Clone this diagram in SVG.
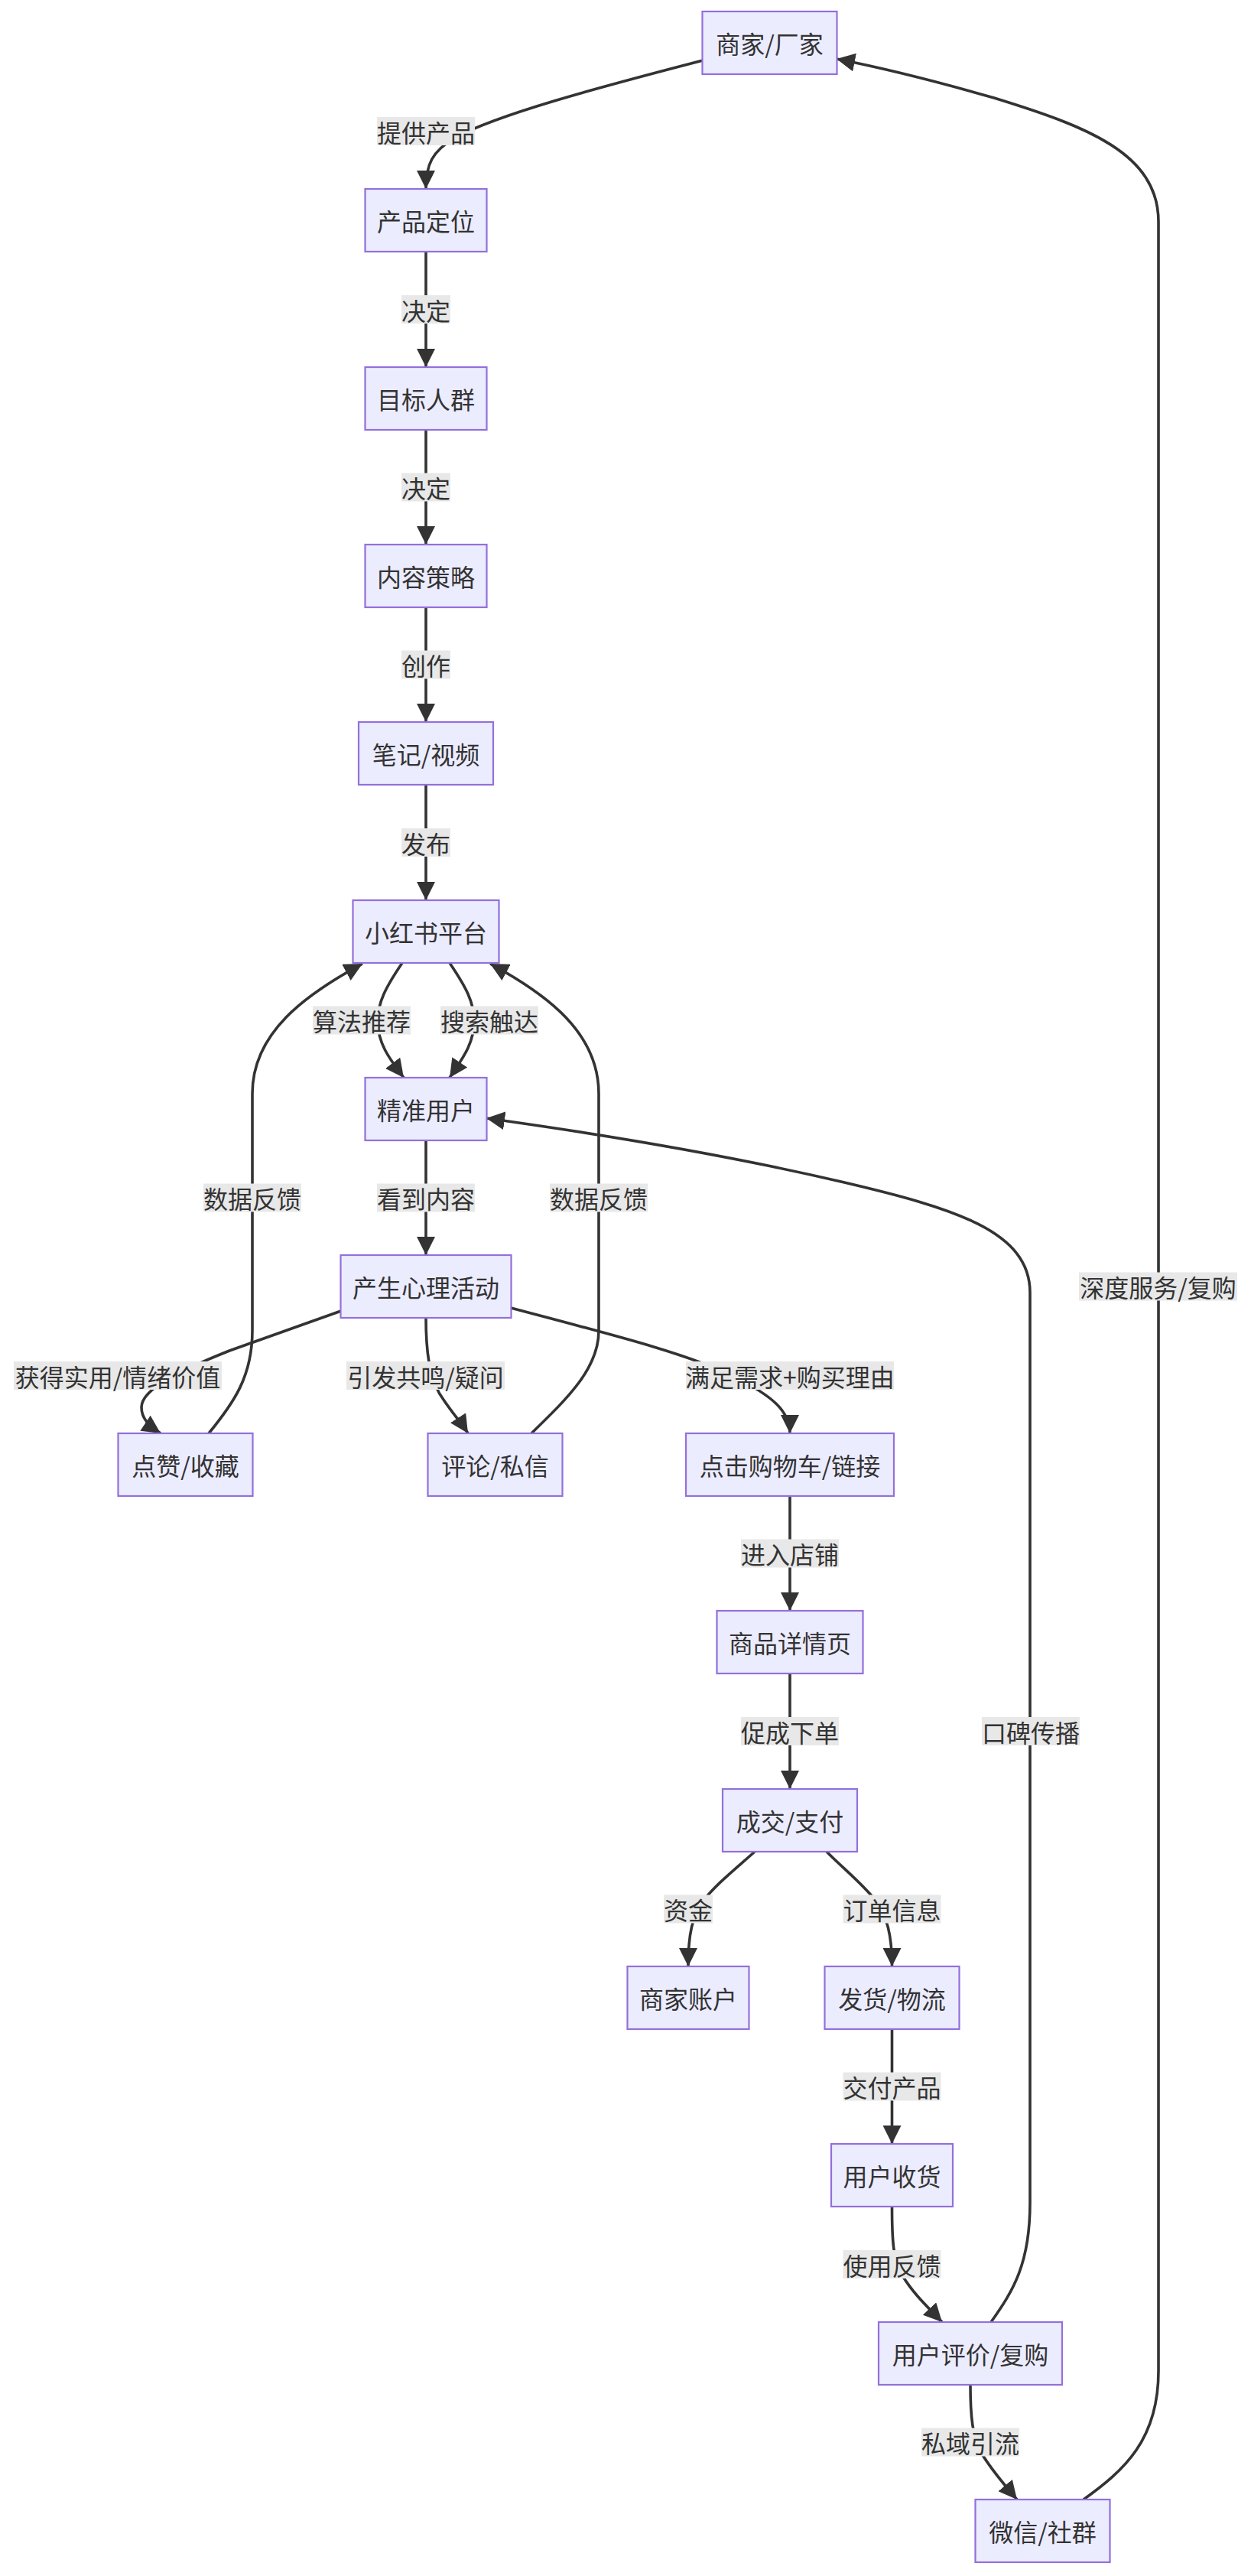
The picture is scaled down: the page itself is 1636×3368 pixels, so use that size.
<svg xmlns="http://www.w3.org/2000/svg" width="1636" height="3368" viewBox="0 0 1636 3368">
<style>
.node rect{fill:#ECECFF;stroke:#9370DB;stroke-width:2.2}
text{font-family:"Noto Sans CJK SC","Noto Sans",sans-serif;font-size:32px;fill:#333;text-anchor:middle;dominant-baseline:central}
.edge{fill:none;stroke:#333;stroke-width:3.6;marker-end:url(#arrow)}
.lbl rect{fill:#e8e8e8}
</style>
<defs>
<marker id="arrow" viewBox="0 0 10 10" refX="10" refY="5" markerUnits="userSpaceOnUse" markerWidth="24" markerHeight="24" orient="auto">
<path d="M0,0 L10,5 L0,10 z" fill="#333"/>
</marker>
</defs>
<rect width="1636" height="3368" fill="#fff"/>
<g id="connectors">
<path class="edge" d="M919,79 C780,115 650,150 595,180 C565,198 557,215 557,247"/>
<path class="edge" d="M557,329 L557,480"/>
<path class="edge" d="M557,562 L557,712"/>
<path class="edge" d="M557,794 L557,944"/>
<path class="edge" d="M557,1026 L557,1177"/>
<path class="edge" d="M526,1259 C505,1290 494,1310 494,1335 C494,1365 510,1385 528,1409"/>
<path class="edge" d="M588,1259 C609,1290 620,1310 620,1335 C620,1365 604,1385 588,1409"/>
<path class="edge" d="M273,1874 C305,1835 330,1800 330,1740 L330,1430 C330,1350 400,1300 474,1260"/>
<path class="edge" d="M695,1874 C740,1830 783,1790 783,1740 L783,1430 C783,1350 715,1300 641,1260"/>
<path class="edge" d="M557,1491 L557,1641"/>
<path class="edge" d="M446,1714 L300,1766 C240,1790 185,1815 185,1840 C185,1855 195,1864 210,1874"/>
<path class="edge" d="M557,1723 C557,1780 565,1810 580,1830 C592,1848 603,1860 612,1874"/>
<path class="edge" d="M668,1710 C800,1745 900,1770 960,1800 C1010,1825 1033,1845 1033,1874"/>
<path class="edge" d="M1033,1956 L1033,2106"/>
<path class="edge" d="M1033,2188 L1033,2339"/>
<path class="edge" d="M987,2421 C960,2445 935,2465 920,2485 C905,2505 900,2530 900,2571"/>
<path class="edge" d="M1081,2421 C1105,2445 1130,2465 1145,2485 C1160,2505 1166.5,2530 1166.5,2571"/>
<path class="edge" d="M1166.5,2653 L1166.5,2803"/>
<path class="edge" d="M1166.5,2885 C1166.5,2930 1168,2955 1180,2975 C1195,3000 1215,3018 1232,3036"/>
<path class="edge" d="M1269,3118 C1269,3160 1272,3185 1282,3205 C1298,3232 1315,3250 1330,3268"/>
<path class="edge" d="M1296,3036 C1325,2995 1347,2960 1347,2880 L1347,1690 C1347,1610 1250,1580 1100,1545 C950,1510 780,1482 636,1462"/>
<path class="edge" d="M1417,3268 C1470,3230 1515,3190 1515,3100 L1515,290 C1515,200 1420,165 1300,128 C1220,105 1150,88 1094,77"/>
</g>
<g id="edge-labels">
<g class="lbl"><rect x="493" y="153" width="128" height="37"/><text x="557" y="172">提供产品</text></g>
<g class="lbl"><rect x="525" y="386" width="64" height="37"/><text x="557" y="404.5">决定</text></g>
<g class="lbl"><rect x="525" y="618.5" width="64" height="37"/><text x="557" y="637">决定</text></g>
<g class="lbl"><rect x="525" y="850.5" width="64" height="37"/><text x="557" y="869">创作</text></g>
<g class="lbl"><rect x="525" y="1083" width="64" height="37"/><text x="557" y="1101.5">发布</text></g>
<g class="lbl"><rect x="409" y="1315.5" width="128" height="37"/><text x="473" y="1334">算法推荐</text></g>
<g class="lbl"><rect x="576" y="1315.5" width="128" height="37"/><text x="640" y="1334">搜索触达</text></g>
<g class="lbl"><rect x="266" y="1547.5" width="128" height="37"/><text x="330" y="1566">数据反馈</text></g>
<g class="lbl"><rect x="493" y="1547.5" width="128" height="37"/><text x="557" y="1566">看到内容</text></g>
<g class="lbl"><rect x="719" y="1547.5" width="128" height="37"/><text x="783" y="1566">数据反馈</text></g>
<g class="lbl"><rect x="18" y="1780" width="272" height="37"/><text x="154" y="1798.5">获得实用/情绪价值</text></g>
<g class="lbl"><rect x="453" y="1780" width="207" height="37"/><text x="556.5" y="1798.5">引发共鸣/疑问</text></g>
<g class="lbl"><rect x="897" y="1780" width="272" height="37"/><text x="1033" y="1798.5">满足需求+购买理由</text></g>
<g class="lbl"><rect x="1411" y="1663.5" width="207" height="37"/><text x="1514.5" y="1682">深度服务/复购</text></g>
<g class="lbl"><rect x="969" y="2012.5" width="128" height="37"/><text x="1033" y="2031">进入店铺</text></g>
<g class="lbl"><rect x="969" y="2245" width="128" height="37"/><text x="1033" y="2263.5">促成下单</text></g>
<g class="lbl"><rect x="1284" y="2245" width="128" height="37"/><text x="1348" y="2263.5">口碑传播</text></g>
<g class="lbl"><rect x="868" y="2477.5" width="64" height="37"/><text x="900" y="2496">资金</text></g>
<g class="lbl"><rect x="1102.5" y="2477.5" width="128" height="37"/><text x="1166.5" y="2496">订单信息</text></g>
<g class="lbl"><rect x="1102.5" y="2709.5" width="128" height="37"/><text x="1166.5" y="2728">交付产品</text></g>
<g class="lbl"><rect x="1102.5" y="2942" width="128" height="37"/><text x="1166.5" y="2960.5">使用反馈</text></g>
<g class="lbl"><rect x="1205" y="3174.5" width="128" height="37"/><text x="1269" y="3193">私域引流</text></g>
</g>
<g id="n-merchant" class="node"><rect x="918.5" y="15" width="176" height="82"/><text x="1006.5" y="56">商家/厂家</text></g>
<g id="n-positioning" class="node"><rect x="477.5" y="247" width="159" height="82"/><text x="557" y="288">产品定位</text></g>
<g id="n-audience" class="node"><rect x="477.5" y="480" width="159" height="82"/><text x="557" y="521">目标人群</text></g>
<g id="n-strategy" class="node"><rect x="477.5" y="712" width="159" height="82"/><text x="557" y="753">内容策略</text></g>
<g id="n-notes" class="node"><rect x="469" y="944" width="176" height="82"/><text x="557" y="985">笔记/视频</text></g>
<g id="n-platform" class="node"><rect x="461.5" y="1177" width="191" height="82"/><text x="557" y="1218">小红书平台</text></g>
<g id="n-users" class="node"><rect x="477.5" y="1409" width="159" height="82"/><text x="557" y="1450">精准用户</text></g>
<g id="n-psych" class="node"><rect x="445.5" y="1641" width="223" height="82"/><text x="557" y="1682">产生心理活动</text></g>
<g id="n-like" class="node"><rect x="154.5" y="1874" width="176" height="82"/><text x="242.5" y="1915">点赞/收藏</text></g>
<g id="n-comment" class="node"><rect x="559.5" y="1874" width="176" height="82"/><text x="647.5" y="1915">评论/私信</text></g>
<g id="n-cart" class="node"><rect x="897" y="1874" width="272" height="82"/><text x="1033" y="1915">点击购物车/链接</text></g>
<g id="n-detail" class="node"><rect x="937.5" y="2106" width="191" height="82"/><text x="1033" y="2147">商品详情页</text></g>
<g id="n-pay" class="node"><rect x="945" y="2339" width="176" height="82"/><text x="1033" y="2380">成交/支付</text></g>
<g id="n-account" class="node"><rect x="820.5" y="2571" width="159" height="82"/><text x="900" y="2612">商家账户</text></g>
<g id="n-ship" class="node"><rect x="1078.5" y="2571" width="176" height="82"/><text x="1166.5" y="2612">发货/物流</text></g>
<g id="n-receive" class="node"><rect x="1087" y="2803" width="159" height="82"/><text x="1166.5" y="2844">用户收货</text></g>
<g id="n-review" class="node"><rect x="1149" y="3036" width="240" height="82"/><text x="1269" y="3077">用户评价/复购</text></g>
<g id="n-wechat" class="node"><rect x="1275.5" y="3268" width="176" height="82"/><text x="1363.5" y="3309">微信/社群</text></g>
</svg>
